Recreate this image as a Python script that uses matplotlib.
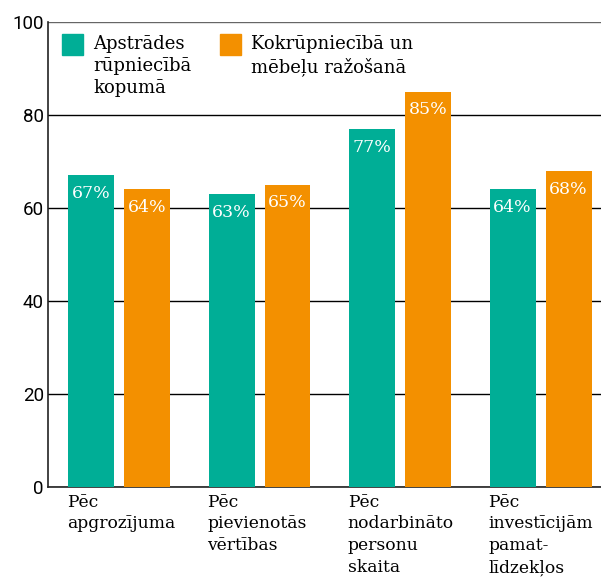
import matplotlib
matplotlib.use("Agg")
from matplotlib import pyplot as plt
from matplotlib.patches import Rectangle
import matplotlib.transforms as mtransforms
import numpy as np

# dati
kategorijas = ["Pēc\napgrozījuma", "Pēc\npievienotās\nvērtības",
               "Pēc\nnodarbināto\npersonu\nskaita", "Pēc\ninvestīcijām\npamat-\nlīdzekļos"]
apstrade = [67, 63, 77, 64]
kokrupn = [64, 65, 85, 68]
serijas = ["Apstrādes\nrūpniecībā\nkopumā", "Kokrūpniecībā un\nmēbeļu ražošanā"]
krasas = ["#00ae96", "#f39000"]
y_ticks = [0, 20, 40, 60, 80, 100]

serif = "DejaVu Serif"

fig = plt.figure(figsize=(6.01, 5.81), dpi=100)
ax = fig.add_axes([0.0799, 0.1618, 0.9201, 0.8003])

x = np.arange(len(kategorijas))
w = 0.327
off = 0.199

for vals, dx, c in [(apstrade, -off, krasas[0]), (kokrupn, off, krasas[1])]:
    bars = ax.bar(x + dx, vals, width=w, color=c, zorder=3)
    for b, v in zip(bars, vals):
        ax.annotate(f"{v}%", xy=(b.get_x() + b.get_width() / 2, v),
                    xytext=(0, -7), textcoords="offset points",
                    ha="center", va="top", color="white",
                    fontsize=12.5, family=serif, zorder=4)

ax.set_xlim(-0.505, 3.43)
ax.set_ylim(0, 100)
ax.set_yticks(y_ticks)
ax.set_xticks([])
ax.yaxis.grid(True, color="black", linewidth=1.0, zorder=0)
ax.get_ygridlines()[-1].set_color("#666666")
ax.tick_params(axis="y", length=0, pad=3, labelsize=13.5)
for lbl in ax.get_yticklabels():
    lbl.set_family("Roboto")

for s in ["top", "right"]:
    ax.spines[s].set_visible(False)
ax.spines["left"].set_linewidth(1.2)
ax.spines["bottom"].set_linewidth(1.2)
ax.spines["left"].set_color("#222222")
ax.spines["bottom"].set_color("#222222")

# kategoriju nosaukumi zem ass
trans = mtransforms.blended_transform_factory(ax.transData, ax.transAxes)
for xi, k in zip(x, kategorijas):
    ax.text(xi - off - w / 2 - 0.01, -0.014, k, transform=trans, ha="left", va="top",
            fontsize=12.3, family=serif, linespacing=1.38, clip_on=False)

# leģenda
for (sx, tx), lab, c in zip([(0.0253, 0.0814), (0.311, 0.367)], serijas, krasas):
    ax.add_patch(Rectangle((sx, 0.929), 0.038, 0.045, transform=ax.transAxes,
                           color=c, zorder=5, clip_on=False))
    ax.text(tx, 0.972, lab, transform=ax.transAxes, ha="left", va="top",
            fontsize=13, family=serif, linespacing=1.3, zorder=5)

fig.savefig("out.png", dpi=100)
